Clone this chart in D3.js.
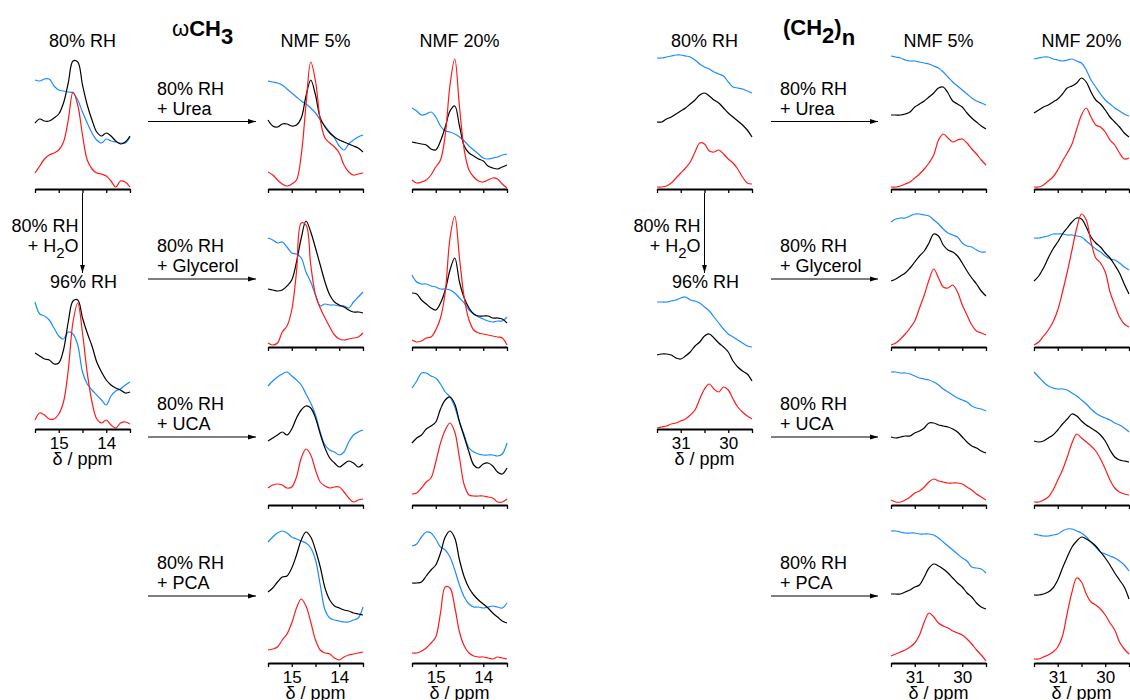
<!DOCTYPE html>
<meta charset="utf-8">
<style>
body { margin: 0; background: #fff; }
svg { font-family: "Liberation Sans", Arial, Helvetica, sans-serif; }
.lbl { font-size: 18px; fill: #000; }
.ttl { font-size: 22px; font-weight: bold; fill: #000; }
</style>
<svg width="1130" height="700"></svg>
<script src="https://d3js.org/d3.v7.min.js"></script>
<script>

// spectra: stacked intensity (a.u.) at 21 evenly spaced shifts,
// high ppm -> low ppm. each panel holds [blue, black, red]
var ch3_rh80 = [
  [109,108,110,110,103,99,98,97,96,89,77,66,56,49,46,50,48,47,46,46,52],
  [66,70,68,68,71,75,86,106,128,127,104,84,69,57,53,56,53,48,45,47,53],
  [16,23,30,34,36,39,47,69,97,84,54,29,20,16,15,13,8,2,8,7,2]];
var ch3_rh96 = [
  [127,115,113,109,101,93,90,97,95,84,57,45,39,34,29,24,33,38,40,44,47],
  [76,73,70,69,65,66,79,107,128,129,111,96,83,67,57,49,44,41,39,36,37],
  [9,16,14,10,10,15,27,59,107,126,96,56,27,10,6,9,4,1,6,7,5]];
var ch3_urea5 = [
  [108,107,106,104,100,96,92,88,85,81,76,69,63,57,51,43,39,45,49,52,54],
  [69,63,62,65,65,63,64,71,93,109,94,71,62,56,52,49,47,45,43,41,37],
  [17,14,9,5,3,5,9,34,84,127,108,69,51,46,42,36,24,17,14,15,16]];
var ch3_urea20 = [
  [81,78,74,75,77,72,63,58,57,55,52,48,43,39,35,31,30,31,32,34,35],
  [47,46,45,44,40,39,48,62,78,83,63,43,36,33,30,28,23,21,20,22,24],
  [9,6,7,9,14,22,29,54,104,130,82,39,19,12,8,7,9,11,10,5,1]];
var ch3_gly5 = [
  [109,107,104,105,100,94,93,89,75,65,52,41,43,42,42,41,41,39,45,50,55],
  [58,57,56,57,61,67,85,109,126,115,99,82,65,52,45,42,40,37,35,35,34],
  [4,2,4,15,21,37,75,124,122,82,52,39,29,20,12,8,7,8,9,10,14]];
var ch3_gly20 = [
  [72,65,63,63,61,60,58,58,57,54,49,44,37,33,30,28,26,25,26,26,30],
  [54,53,47,43,39,37,44,57,77,89,65,49,39,33,31,31,31,29,29,28,24],
  [7,5,6,9,10,17,29,55,109,131,89,49,27,17,14,13,12,11,10,9,2]];
var ch3_uca5 = [
  [119,124,128,131,133,129,125,120,111,102,90,73,60,55,53,50,53,63,70,73,75],
  [64,67,70,73,70,76,87,95,99,97,87,71,57,47,42,38,41,44,42,38,41],
  [17,20,21,20,17,18,28,47,56,50,35,23,19,17,18,18,13,7,3,5,6]];
var ch3_uca20 = [
  [117,124,132,132,129,127,121,113,108,98,83,70,57,53,51,50,50,50,49,51,62],
  [62,67,70,76,79,83,96,105,108,101,83,68,53,40,37,41,42,39,33,31,37],
  [11,12,17,23,27,43,62,75,82,73,47,20,10,9,9,9,8,7,3,3,6]];
var ch3_pca5 = [
  [121,126,130,132,130,126,124,122,120,115,103,78,53,45,43,42,41,41,43,45,56],
  [71,75,81,86,87,95,108,123,131,126,113,96,75,63,57,55,53,52,50,49,48],
  [13,14,16,23,29,40,55,64,57,41,23,13,10,9,5,3,6,8,9,10,11]];
var ch3_pca20 = [
  [117,119,126,131,130,124,116,113,106,93,78,66,59,56,56,55,56,57,56,55,60],
  [80,80,81,87,93,98,110,126,132,125,103,86,75,68,63,59,55,50,46,42,40],
  [10,10,12,15,20,26,50,76,75,56,31,17,10,7,6,6,5,4,6,5,4]];

var ch2_rh80 = [
  [131,131,132,133,134,134,133,132,129,125,122,120,117,115,113,107,102,101,100,98,96],
  [67,67,70,72,75,78,81,85,89,94,96,93,89,86,81,76,72,68,64,59,52],
  [2,2,3,6,11,16,21,27,37,46,45,38,37,39,35,30,26,20,12,6,5]];
var ch2_rh96 = [
  [127,127,127,128,129,131,132,129,128,126,122,118,112,106,100,95,92,89,86,83,82],
  [74,75,75,74,71,70,73,77,83,87,93,95,91,86,82,77,68,62,58,55,48],
  [1,2,3,5,6,8,10,14,19,30,40,45,40,37,42,39,30,22,17,13,10]];
var ch2_urea5 = [
  [133,132,131,129,128,128,127,126,125,123,121,117,112,107,103,99,95,91,88,86,84],
  [74,74,74,75,77,82,85,88,92,96,101,102,96,88,85,82,76,71,67,63,60],
  [2,2,3,5,7,11,15,20,26,34,49,55,51,47,49,50,46,40,35,29,24]];
var ch2_urea20 = [
  [130,131,132,132,130,129,128,129,130,128,126,119,109,102,95,89,85,81,78,75,73],
  [76,79,82,84,87,90,95,101,103,106,111,107,97,89,85,79,72,67,62,56,52],
  [2,2,4,8,12,19,28,36,45,60,74,81,72,64,62,57,49,44,36,30,31]];
var ch2_gly5 = [
  [125,128,129,129,131,133,133,132,131,127,123,118,114,112,110,104,101,100,97,95,95],
  [66,68,71,74,79,85,91,96,104,113,111,102,97,95,91,84,76,69,63,56,51],
  [2,4,8,13,19,26,39,52,67,78,69,60,59,62,55,42,32,22,16,14,12]];
var ch2_gly20 = [
  [109,109,110,111,113,113,113,112,112,111,110,106,102,98,95,91,88,87,84,80,77],
  [66,71,79,89,98,105,113,119,125,129,128,120,110,104,100,94,89,82,74,63,53],
  [2,5,11,17,25,37,55,75,97,119,133,127,105,89,84,75,55,42,30,23,20]];
var ch2_uca5 = [
  [133,133,132,132,131,129,127,126,125,123,120,116,113,110,107,105,103,99,97,96,94],
  [68,67,68,69,69,72,74,77,82,82,80,79,78,76,73,68,63,59,57,54,52],
  [5,3,3,5,8,12,14,18,23,26,24,23,22,22,22,21,18,15,11,8,5]];
var ch2_uca20 = [
  [133,128,123,119,117,116,116,115,112,109,105,101,96,92,89,87,85,82,80,77,73],
  [64,63,64,67,70,75,81,86,91,89,84,80,77,74,70,64,55,48,45,44,43],
  [3,3,5,8,15,25,35,48,62,71,67,63,59,54,46,36,25,17,13,11,10]];
var ch2_pca5 = [
  [132,132,131,130,130,130,129,129,129,128,125,121,117,113,109,105,102,96,95,94,90],
  [69,69,69,71,73,76,78,86,95,99,97,94,90,85,80,76,70,66,60,56,54],
  [7,9,11,13,16,20,28,41,50,46,40,37,35,32,30,28,24,19,13,8,2]];
var ch2_pca20 = [
  [129,128,127,127,128,129,132,134,134,132,130,126,121,116,111,109,107,105,102,98,92],
  [68,68,69,71,75,83,95,106,116,122,126,124,121,117,111,105,98,90,83,76,64],
  [4,4,6,8,11,16,27,50,71,85,81,69,61,58,54,48,40,33,21,14,9]];

var ppmRange = { ch3: [15.5, 13.5], ch2: [31.5, 29.5] };
var colHeads = ["80% RH", "NMF 5%", "NMF 20%"];
var additives = ["Urea", "Glycerol", "UCA", "PCA"];

var svg = d3.select("svg");
var W = 95, H = 135;
var colors = ["#1a8cff", "#000000", "#ff1a1a"];

svg.append("defs").append("marker")
    .attr("id", "ah")
    .attr("viewBox", "0 0 10 10")
    .attr("refX", 10).attr("refY", 5)
    .attr("markerWidth", 8).attr("markerHeight", 8)
    .attr("markerUnits", "userSpaceOnUse")
    .attr("orient", "auto")
  .append("path")
    .attr("d", "M0,2 L10,5 L0,8 Z")
    .attr("fill", "#000");

// the two halves of the figure
var halves = [
  { k: "ch3", cols: [35, 268, 412], left: 148, right: 256, rows: [ch3_urea5, ch3_gly5, ch3_uca5, ch3_pca5],
    rows20: [ch3_urea20, ch3_gly20, ch3_uca20, ch3_pca20], rh80: ch3_rh80, rh96: ch3_rh96 },
  { k: "ch2", cols: [657, 891, 1034], left: 771, right: 878, rows: [ch2_urea5, ch2_gly5, ch2_uca5, ch2_pca5],
    rows20: [ch2_urea20, ch2_gly20, ch2_uca20, ch2_pca20], rh80: ch2_rh80, rh96: ch2_rh96 }
];
var rowAxis = [189, 347, 505, 663];
var rh96Axis = 429;

function panel(data, k, x0, axisY, labels) {
  var dom = ppmRange[k];
  var x = d3.scaleLinear().domain(dom).range([x0, x0 + W]);
  var y = d3.scaleLinear().domain([0, H]).range([axisY, axisY - H]);
  var pts = d3.range(21).map(function(i) { return dom[0] + (dom[1] - dom[0]) * i / 20; });
  var line = d3.line()
      .x(function(v, i) { return x(pts[i]); })
      .y(function(v) { return y(v); })
      .curve(d3.curveCatmullRom.alpha(0.5));

  data.forEach(function(s, j) {
    svg.append("path")
        .attr("d", line(s))
        .attr("fill", "none")
        .attr("stroke", colors[j])
        .attr("stroke-width", 1.2);
  });

  var ax = d3.axisBottom(x)
      .tickValues(d3.range(5).map(function(i) { return dom[0] + (dom[1] - dom[0]) * i / 4; }))
      .tickSize(4).tickSizeOuter(0).tickPadding(4)
      .tickFormat(function(v) { return labels && v % 1 === 0 ? v : ""; });
  var g = svg.append("g").attr("transform", "translate(0," + axisY + ")").call(ax);
  g.select(".domain").attr("stroke-width", 1.8);
  g.selectAll(".tick line").attr("stroke-width", 1.3);
  g.selectAll(".tick text").attr("font-size", 17).attr("font-family", null).attr("fill", "#000");

  if (labels) {
    svg.append("text").attr("class", "lbl")
        .attr("x", x0 + W / 2).attr("y", axisY + 36)
        .attr("text-anchor", "middle")
        .text("\u03b4 / ppm");
  }
}

halves.forEach(function(h) {
  var c = h.cols;
  panel(h.rh80, h.k, c[0], rowAxis[0], false);
  panel(h.rh96, h.k, c[0], rh96Axis, true);
  h.rows.forEach(function(d, i) { panel(d, h.k, c[1], rowAxis[i], i === 3); });
  h.rows20.forEach(function(d, i) { panel(d, h.k, c[2], rowAxis[i], i === 3); });

  colHeads.forEach(function(t, i) {
    svg.append("text").attr("class", "lbl")
        .attr("x", c[i] + W / 2).attr("y", 47)
        .attr("text-anchor", "middle").text(t);
  });

  // horizontal arrows with additive labels
  additives.forEach(function(a, i) {
    var ay = [121.5, 279, 437, 596][i];
    svg.append("line")
        .attr("x1", h.left).attr("x2", h.right)
        .attr("y1", ay).attr("y2", ay)
        .attr("stroke", "#000").attr("stroke-width", 1)
        .attr("marker-end", "url(#ah)");
    svg.append("text").attr("class", "lbl")
        .attr("x", h.left + 9).attr("y", ay - 27).text("80% RH");
    svg.append("text").attr("class", "lbl")
        .attr("x", h.left + 9).attr("y", ay - 7).text("+ " + a);
  });

  // vertical arrow 80% RH -> 96% RH
  var vx = c[0] + 47.5;
  svg.append("line")
      .attr("x1", vx).attr("x2", vx)
      .attr("y1", 193).attr("y2", 273)
      .attr("stroke", "#000").attr("stroke-width", 1)
      .attr("marker-end", "url(#ah)");
  svg.append("text").attr("class", "lbl")
      .attr("x", vx - 4).attr("y", 232)
      .attr("text-anchor", "end").text("80% RH");
  var t2 = svg.append("text").attr("class", "lbl")
      .attr("x", vx - 4).attr("y", 252)
      .attr("text-anchor", "end");
  t2.append("tspan").text("+ H");
  t2.append("tspan").attr("dy", 6).attr("font-size", 15).text("2");
  t2.append("tspan").attr("dy", -6).text("O");
  svg.append("text").attr("class", "lbl")
      .attr("x", vx + 1).attr("y", 288)
      .attr("text-anchor", "middle").text("96% RH");
});

// group titles
var tl = svg.append("text").attr("class", "ttl").attr("x", 172).attr("y", 36);
tl.append("tspan").attr("font-weight", "normal").text("\u03c9");
tl.append("tspan").text("CH");
tl.append("tspan").attr("dy", 8).text("3");

var tr = svg.append("text").attr("class", "ttl").attr("x", 783).attr("y", 35);
tr.append("tspan").text("(CH");
tr.append("tspan").attr("dy", 8).text("2");
tr.append("tspan").attr("dy", -8).text(")");
tr.append("tspan").attr("dy", 10).text("n");

</script>
